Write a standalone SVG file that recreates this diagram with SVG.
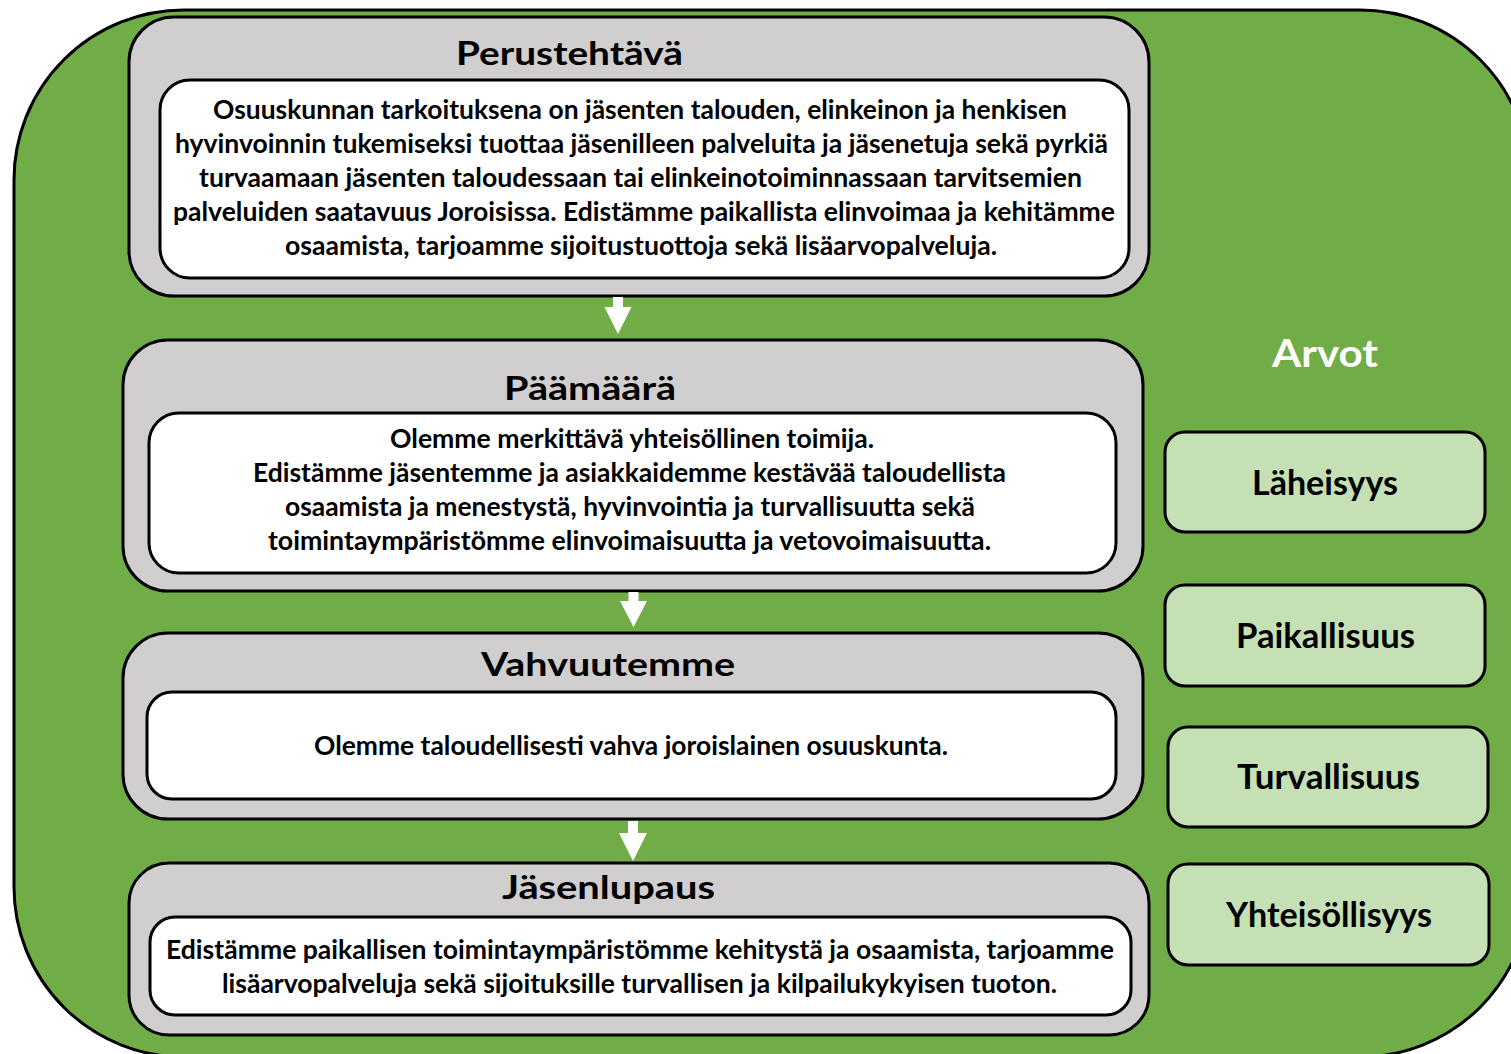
<svg xmlns="http://www.w3.org/2000/svg" width="1511" height="1054" viewBox="0 0 1511 1054">
<style>
.bg{fill:#70AD47;stroke:#000;stroke-width:3}
.outer{fill:#D0CECE;stroke:#000;stroke-width:3}
.inner{fill:#FFFFFF;stroke:#000;stroke-width:3}
.val{fill:#C5E0B4;stroke:#000;stroke-width:3}
text{font-family:Lato,"Open Sans","Liberation Sans",sans-serif;font-weight:bold;fill:#000;text-anchor:middle}
.title{font-size:32.5px}
.body{font-size:26.5px}
.vt{font-size:35px}
.arvot{font-size:39px;fill:#FFFFFF}
.arrow{fill:#FFFFFF;stroke:none}
</style>
<rect class="bg" x="14" y="10" width="1516" height="1047" rx="170" ry="170"/>
<g id="perustehtava">
<rect class="outer" x="129" y="17" width="1020" height="279" rx="45"/>
<rect class="inner" x="160" y="80" width="969" height="198" rx="30"/>
<text class="title" x="569.5" y="65" textLength="227" lengthAdjust="spacingAndGlyphs">Perustehtävä</text>
<text class="body" x="640" y="119" textLength="854" lengthAdjust="spacingAndGlyphs">Osuuskunnan tarkoituksena on jäsenten talouden, elinkeinon ja henkisen</text>
<text class="body" x="641.5" y="153" textLength="933" lengthAdjust="spacingAndGlyphs">hyvinvoinnin tukemiseksi tuottaa jäsenilleen palveluita ja jäsenetuja sekä pyrkiä</text>
<text class="body" x="640.5" y="187" textLength="883" lengthAdjust="spacingAndGlyphs">turvaamaan jäsenten taloudessaan tai elinkeinotoiminnassaan tarvitsemien</text>
<text class="body" x="644" y="221" textLength="942" lengthAdjust="spacingAndGlyphs">palveluiden saatavuus Joroisissa. Edistämme paikallista elinvoimaa ja kehitämme</text>
<text class="body" x="641" y="255" textLength="712" lengthAdjust="spacingAndGlyphs">osaamista, tarjoamme sijoitustuottoja sekä lisäarvopalveluja.</text>
</g>
<g id="paamaara">
<rect class="outer" x="123" y="340" width="1020" height="251" rx="45"/>
<rect class="inner" x="149" y="413" width="967" height="160" rx="30"/>
<text class="title" x="590" y="400" textLength="172" lengthAdjust="spacingAndGlyphs">Päämäärä</text>
<text class="body" x="632" y="448" textLength="484" lengthAdjust="spacingAndGlyphs">Olemme merkittävä yhteisöllinen toimija.</text>
<text class="body" x="629.5" y="482" textLength="753" lengthAdjust="spacingAndGlyphs">Edistämme jäsentemme ja asiakkaidemme kestävää taloudellista</text>
<text class="body" x="630" y="516" textLength="690" lengthAdjust="spacingAndGlyphs">osaamista ja menestystä, hyvinvointia ja turvallisuutta sekä</text>
<text class="body" x="629.5" y="550" textLength="723" lengthAdjust="spacingAndGlyphs">toimintaympäristömme elinvoimaisuutta ja vetovoimaisuutta.</text>
</g>
<g id="vahvuutemme">
<rect class="outer" x="123" y="633" width="1020" height="186" rx="45"/>
<rect class="inner" x="147" y="692" width="969" height="107" rx="25"/>
<text class="title" x="608" y="676" textLength="254" lengthAdjust="spacingAndGlyphs">Vahvuutemme</text>
<text class="body" x="631" y="755" textLength="634" lengthAdjust="spacingAndGlyphs">Olemme taloudellisesti vahva joroislainen osuuskunta.</text>
</g>
<g id="jasenlupaus">
<rect class="outer" x="129" y="863" width="1020" height="172" rx="40"/>
<rect class="inner" x="150" y="917" width="981" height="98" rx="25"/>
<text class="title" x="608.5" y="899" textLength="213" lengthAdjust="spacingAndGlyphs">Jäsenlupaus</text>
<text class="body" x="640" y="959" textLength="948" lengthAdjust="spacingAndGlyphs">Edistämme paikallisen toimintaympäristömme kehitystä ja osaamista, tarjoamme</text>
<text class="body" x="639.5" y="993" textLength="835" lengthAdjust="spacingAndGlyphs">lisäarvopalveluja sekä sijoituksille turvallisen ja kilpailukykyisen tuoton.</text>
</g>
<g id="arvot">
<text class="arvot" x="1325" y="367" textLength="106" lengthAdjust="spacingAndGlyphs">Arvot</text>
</g>
<g id="laheisyys">
<rect class="val" x="1165" y="432" width="320" height="100" rx="20"/>
<text class="vt" x="1325" y="495" textLength="146" lengthAdjust="spacingAndGlyphs">Läheisyys</text>
</g>
<g id="paikallisuus">
<rect class="val" x="1165" y="585" width="320" height="101" rx="20"/>
<text class="vt" x="1325.5" y="648" textLength="179" lengthAdjust="spacingAndGlyphs">Paikallisuus</text>
</g>
<g id="turvallisuus">
<rect class="val" x="1168" y="727" width="320" height="100" rx="20"/>
<text class="vt" x="1328.5" y="789" textLength="183" lengthAdjust="spacingAndGlyphs">Turvallisuus</text>
</g>
<g id="yhteisollisyys">
<rect class="val" x="1168" y="864" width="321" height="101" rx="20"/>
<text class="vt" x="1329" y="927" textLength="206" lengthAdjust="spacingAndGlyphs">Yhteisöllisyys</text>
</g>
<g id="connectors">
<polygon class="arrow" points="613,297 623,297 623,307 631.5,307 618,334 604.5,307 613,307"/>
<polygon class="arrow" points="628.5,592 638.5,592 638.5,601 647,601 633.5,627 620,601 628.5,601"/>
<polygon class="arrow" points="628,821 638,821 638,833 647,833 633,861 619,833 628,833"/>
</g>
</svg>
